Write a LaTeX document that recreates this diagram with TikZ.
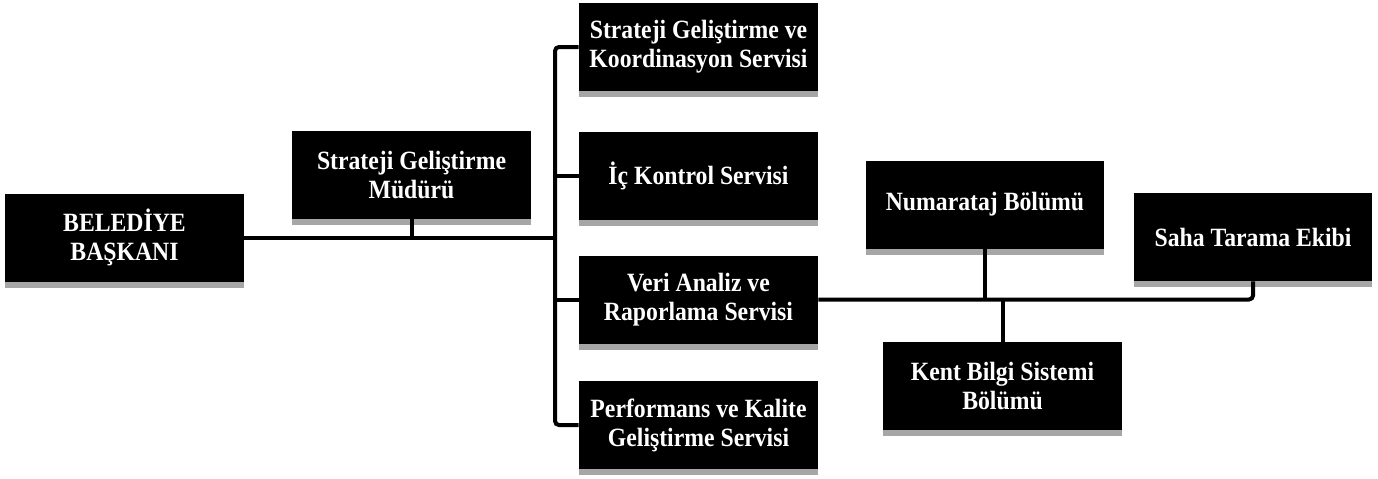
\documentclass[tikz,border=0pt]{standalone}
\usepackage{fontspec}
\usepackage{tikz}
\usetikzlibrary{shadows}
\newfontfamily\unitfont[FakeStretch=0.9]{Liberation Serif}

\begin{document}
\begin{tikzpicture}[x=0.02cm, y=-0.02cm,
	unit/.style={fill=black, text=white, align=center, inner sep=0pt,
		minimum width=4.78cm, minimum height=1.76cm,
		font=\unitfont\bfseries\fontsize{15}{16.5}\selectfont,
		drop shadow={shadow xshift=0cm, shadow yshift=-0.12cm, fill=black!35, opacity=1}},
	link/.style={line width=0.08cm, rounded corners=0.08cm}]
	%%%%% START %%%%%
	\useasboundingbox (0,0) rectangle (1378,478);
	
	\coordinate (trunk) at (555,0);
	
	\node[unit] (baskan) at (124.5,237.5) {BELEDİYE\\BAŞKANI};
	\node[unit] (mudur) at (411.5,175) {Strateji Geliştirme\\Müdürü};
	
	\node[unit] (koord) at (698.5,47) {Strateji Geliştirme ve\\Koordinasyon Servisi};
	\node[unit] (kontrol) at (698.5,175.5) {İç Kontrol Servisi};
	\node[unit] (veri) at (698.5,299.5) {Veri Analiz ve\\Raporlama Servisi};
	\node[unit] (perf) at (698.5,425) {Performans ve Kalite\\Geliştirme Servisi};
	
	\node[unit] (numara) at (985,204.5) {Numarataj Bölümü};
	\node[unit] (saha) at (1253,237) {Saha Tarama Ekibi};
	\node[unit] (kent) at (1002.5,386) {Kent Bilgi Sistemi\\Bölümü};
	
	% left part
	\draw[link] (baskan.east) -- (baskan.east -| trunk);
	\draw[link] (mudur.south) -- (mudur.south |- baskan.east);
	
	% services
	\draw[link] (koord.west) -| (perf.west -| trunk) -- (perf.west);
	\draw[link] (kontrol.west) -- (kontrol.west -| trunk);
	\draw[link] (veri.west) -- (veri.west -| trunk);
	
	% right part
	\draw[link] (veri.east) -| (saha.south);
	\draw[link] (numara.south) -- (numara.south |- veri.east);
	\draw[link] (kent.north) -- (kent.north |- veri.east);
	
	%%%%% END %%%%%
\end{tikzpicture}
\end{document}
